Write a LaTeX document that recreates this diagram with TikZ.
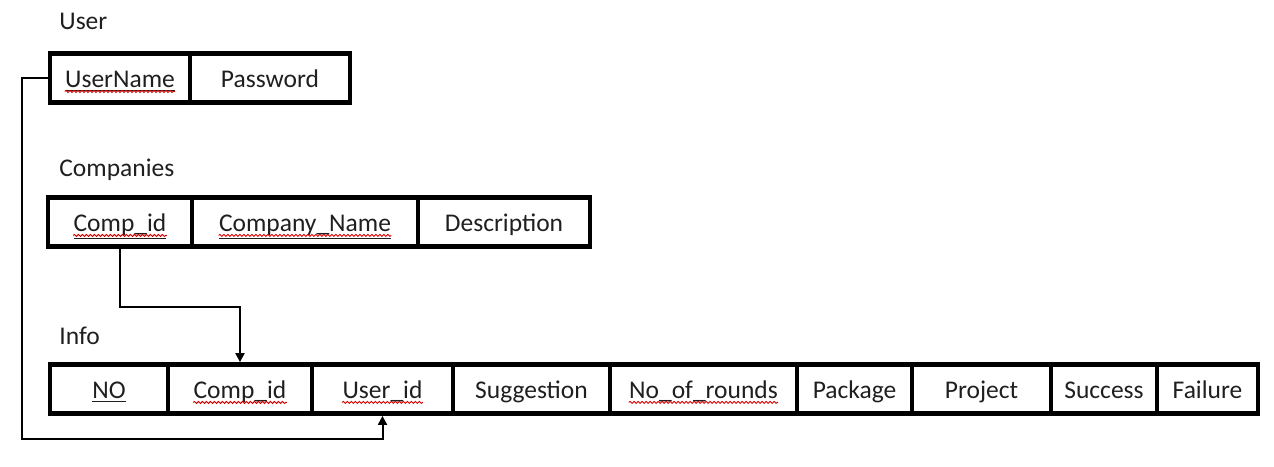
\documentclass[tikz,border=0pt]{standalone}
\usepackage{fontspec}
\setmainfont{Carlito}
\usetikzlibrary{arrows.meta,decorations.pathmorphing}
\begin{document}
\begin{tikzpicture}[x=0.5pt,y=-0.5pt,
 cell/.style={draw, line width=2.4pt, inner sep=0pt, minimum height=24.5pt},
 txt/.style={inner sep=0pt, text=black!88, font=\fontsize{12.75}{15}\selectfont, text height=11pt, text depth=2pt},
 lbl/.style={inner sep=0pt, anchor=west, text=black!88, font=\fontsize{12.75}{15}\selectfont},
 conn/.style={line width=1pt, line join=miter},
 arr/.style={conn, -{Triangle[length=4.5pt,width=4.5pt]}},
 wavy/.style={red!85!black, line width=0.45pt, decorate, decoration={snake, segment length=2pt, amplitude=0.5pt}}]
\useasboundingbox (0,0) rectangle (1274,466);

% labels
\node[lbl] (luser) at (59,21) {User};
\node[lbl] (lcomp) at (59,170) {Companies};
\node[lbl] (linfo) at (59,336) {Info};

% User table
\node[cell,minimum width=70pt] (uname) at (120,78) {};
\node[cell,minimum width=80pt] (upass) at (270,78) {};
\node[txt] (tuname) at (uname) {\underline{UserName}};
\node[txt] (tupass) at (upass) {Password};

% Companies table
\node[cell,minimum width=72pt] (ccid) at (120,222) {};
\node[cell,minimum width=113pt] (cname) at (305,222) {};
\node[cell,minimum width=86pt] (cdesc) at (504,222) {};
\node[txt] (tccid) at (ccid) {\underline{Comp\_id}};
\node[txt] (tcname) at (cname) {\underline{Company\_Name}};
\node[txt] (tcdesc) at (cdesc) {Description};

% Info table
\begin{scope}[every node/.append style={minimum height=24pt}]
\node[cell,minimum width=59pt] (ino) at (109,389) {};
\node[cell,minimum width=72pt] (icid) at (240,389) {};
\node[cell,minimum width=70.5pt] (iuid) at (382.5,389) {};
\node[cell,minimum width=78.5pt] (isug) at (531.5,389) {};
\node[cell,minimum width=93.5pt] (inor) at (703.5,389) {};
\node[cell,minimum width=57.5pt] (ipack) at (854.5,389) {};
\node[cell,minimum width=69.5pt] (iproj) at (981.5,389) {};
\node[cell,minimum width=53pt] (isucc) at (1104,389) {};
\node[cell,minimum width=50.5pt] (ifail) at (1207.5,389) {};
\end{scope}
\node[txt] (tino) at (ino) {\underline{NO}};
\node[txt] (ticid) at (icid) {Comp\_id};
\node[txt] (tiuid) at (iuid) {User\_id};
\node[txt] (tisug) at (isug) {Suggestion};
\node[txt] (tinor) at (inor) {No\_of\_rounds};
\node[txt] (tipack) at (ipack) {Package};
\node[txt] (tiproj) at (iproj) {Project};
\node[txt] (tisucc) at (isucc) {Success};
\node[txt] (tifail) at (ifail) {Failure};

% spell-check squiggles
\foreach \t in {tuname,tccid,tcname,ticid,tiuid,tinor}
  \draw[wavy] ([yshift=-2.2pt]\t.base west) -- ([yshift=-2.2pt]\t.base east);

% connectors
\coordinate (lc) at (22,439);
\draw[arr] (uname.west) -| (lc) -| (iuid.south);
\draw[arr] (ccid.south) -- ++(0,58) -| (icid.north);
\end{tikzpicture}
\end{document}
